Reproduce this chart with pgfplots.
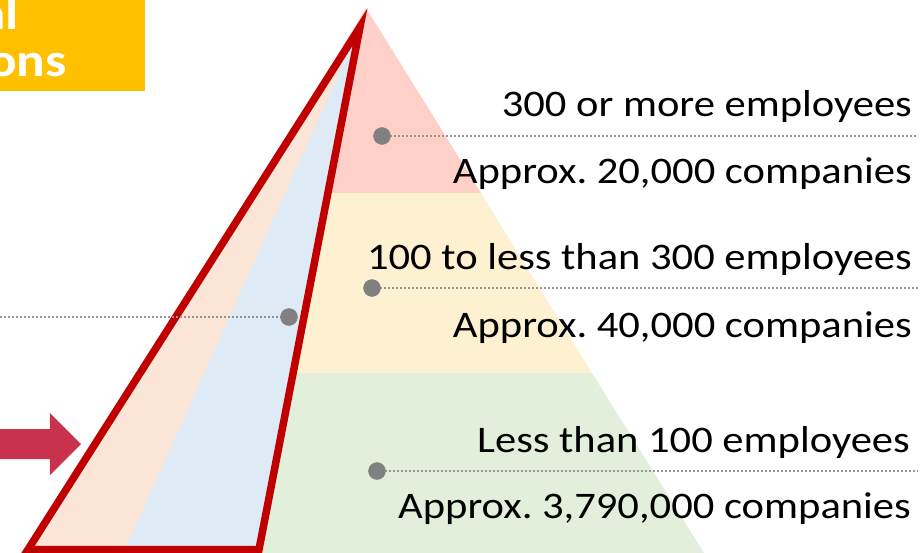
\documentclass[border=0pt]{standalone}
\usepackage{fontspec}
\setmainfont{Carlito}[FakeStretch=1.135]
\usepackage{pgfplots}
\pgfplotsset{compat=1.18}
\frenchspacing

\definecolor{bandtop}{HTML}{FFD0C8}
\definecolor{bandmid}{HTML}{FDF1D2}
\definecolor{bandlow}{HTML}{E2EFDA}
\definecolor{peach}{HTML}{FBE5D6}
\definecolor{paleblue}{HTML}{DEEAF6}
\definecolor{darkred}{HTML}{C00000}
\definecolor{arrowred}{HTML}{C9324C}
\definecolor{boxorange}{HTML}{FFC000}
\definecolor{dotgray}{HTML}{808080}
\definecolor{leadergray}{HTML}{959595}

\tikzset{
  leader/.style={leadergray, line width=2bp, dash pattern=on 2bp off 2bp},
  tierlabel/.style={anchor=base east, inner sep=0pt, font=\fontsize{37.5bp}{45bp}\selectfont},
  headtext/.style={anchor=base east, inner sep=0pt, text=white, font=\bfseries\fontsize{47bp}{50bp}\selectfont},
}

\begin{document}
\begin{tikzpicture}
\useasboundingbox (0,0) rectangle (920bp,553bp);
\clip (0,0) rectangle (920bp,553bp);
\begin{axis}[
  at={(0,0)}, anchor=south west,
  width=920bp, height=553bp, scale only axis,
  xmin=0, xmax=920, ymin=0, ymax=553,
  y dir=reverse, hide axis, clip=false,
]
% pyramid bands: 300+, 100-299, <100 employees
\addplot[fill=bandtop, draw=none] coordinates {(366,8) (481,193) (254,193)} -- cycle;
\addplot[fill=bandmid, draw=none] coordinates {(254,193) (481,193) (592,373) (140,373)} -- cycle;
\addplot[fill=bandlow, draw=none] coordinates {(140,373) (592,373) (704,553) (26,553)} -- cycle;

% highlighted left slice
\addplot[fill=peach, draw=none] coordinates {(360,27) (28,549.5) (259,549.5)} -- cycle;
\addplot[fill=paleblue, draw=none] coordinates {(360,27) (125,549.5) (259,549.5)} -- cycle;
\addplot[draw=darkred, line width=7.5bp, line join=miter] coordinates {(360,27) (28,549.5) (259,549.5)} -- cycle;

% heading box
\addplot[fill=boxorange, draw=none] coordinates {(-5,-5) (145,-5) (145,91) (-5,91)} -- cycle;
\node[headtext] at (axis cs:19,30) {nal};
\node[headtext] at (axis cs:67,77) {ions};

% arrow
\addplot[fill=arrowred, draw=none] coordinates {(-5,429) (50,429) (50,413) (81,444) (50,475) (50,459) (-5,459)} -- cycle;

% leader lines
\addplot[leader] coordinates {(382,136) (918,136)};
\addplot[leader] coordinates {(372,288) (918,288)};
\addplot[leader] coordinates {(377,471) (918,471)};
\addplot[leader] coordinates {(0,317) (289,317)};

% leader dots
\addplot[only marks, mark=*, mark size=8.5bp, color=dotgray] coordinates {(382,136) (372,288) (377,471) (289,317)};

% tier labels
\node[tierlabel] at (axis cs:912,116) {300 or more employees};
\node[tierlabel] at (axis cs:912,183) {Approx. 20,000 companies};
\node[tierlabel] at (axis cs:912,269) {100 to less than 300 employees};
\node[tierlabel] at (axis cs:912,337) {Approx. 40,000 companies};
\node[tierlabel] at (axis cs:910,452) {Less than 100 employees};
\node[tierlabel] at (axis cs:911,518) {Approx. 3,790,000 companies};
\end{axis}
\end{tikzpicture}
\end{document}
